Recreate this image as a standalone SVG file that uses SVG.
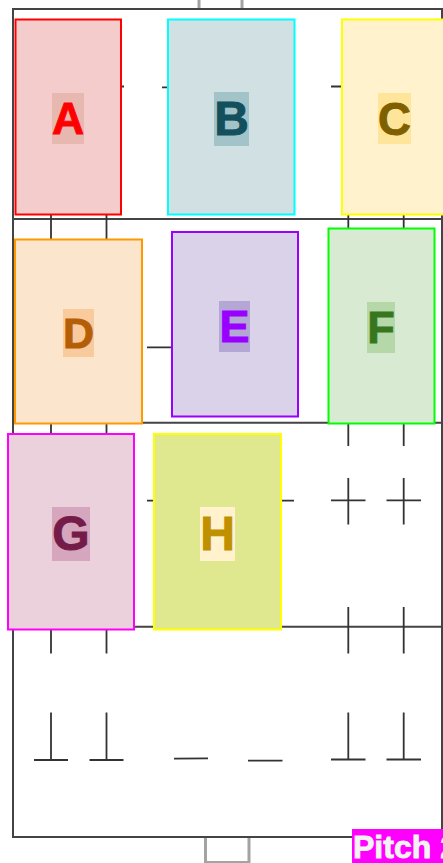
<svg xmlns="http://www.w3.org/2000/svg" width="443" height="863" viewBox="0 0 443 863">
<style>
.bg{fill:#fff}
.ln{stroke:#444;stroke-width:2;fill:none}
.dk{stroke:#333;stroke-width:1.8;fill:none}
.goal{stroke:#a3a3a3;stroke-width:3;fill:none}
.box{stroke-width:2}
.lb{font-family:"Liberation Sans",Arial,sans-serif;font-weight:700;text-anchor:middle;stroke-width:.9;paint-order:stroke}
</style>
<rect class="bg" width="443" height="863"/>
<g id="connectors">
<path class="goal" d="M199 0V9M242 0V9M205.500 837V862.500H249V837"/>
<path class="ln" d="M13 9H442V837H13ZM13 219H442M13 422.700H442M13 626.700H442"/>
<path class="dk" d="M51 214V240M106.500 214V240M348.300 214V229M403.700 214V229M51 423V434M106.500 423V434M348.300 423V446M403.700 423V446M348.300 478V524.500M403.700 478V524.500M331 500.300H365.500M386.500 500.300H421M348.300 607V653.500M403.700 607V653.500M51 630V653.500M106.500 630V653.500M51 712.500V760M106.500 712.500V760M348.300 712.500V759.500M403.700 712.500V759.500M34 760H68M89.500 760H123.500M331 759.500H365.500M386.500 759.500H421M174 758.700L208 758.300M248 760.700H282.500M121 86.500H124M162 87.300H168M331 86.500H342M147 347.300H172M147 500.700H154M281 500.700H294"/>
</g>
<g id="node-a"><rect class="box" x="15.500" y="19.500" width="105.500" height="195" fill="#f4cccc" stroke="#f00"/><rect x="52" y="93" width="32" height="51" fill="#e6b8af"/><text class="lb" x="68" y="134" font-size="44.500" fill="#f00" stroke="#f00">A</text></g>
<g id="node-b"><rect class="box" x="168" y="19.500" width="126.500" height="195" fill="#d0e0e3" stroke="#0ff"/><rect x="214" y="92" width="35" height="54" fill="#a2c4c9"/><text class="lb" x="231.500" y="135" font-size="48" fill="#134f5c" stroke="#134f5c">B</text></g>
<g id="node-c"><rect class="box" x="342" y="19.500" width="104" height="195" fill="#fff2cc" stroke="#ff0"/><rect x="378" y="93" width="33" height="51" fill="#ffe599"/><text class="lb" x="394.500" y="135" font-size="45.500" fill="#7f6000" stroke="#7f6000">C</text></g>
<g id="node-d"><rect class="box" x="15" y="239.500" width="127" height="184" fill="#fce5cd" stroke="#ff9900"/><rect x="63" y="309" width="31" height="48" fill="#f9cb9c"/><text class="lb" x="78.500" y="348" font-size="43" fill="#b45f06" stroke="#b45f06">D</text></g>
<g id="node-e"><rect class="box" x="172" y="232" width="126" height="184.500" fill="#d9d2e9" stroke="#9900ff"/><rect x="219" y="301" width="31" height="51" fill="#b4a7d6"/><text class="lb" x="234.500" y="342" font-size="45" fill="#9900ff" stroke="#9900ff">E</text></g>
<g id="node-f"><rect class="box" x="328.500" y="228.500" width="106" height="195" fill="#d9ead3" stroke="#0f0"/><rect x="367" y="302" width="28" height="51" fill="#b6d7a8"/><text class="lb" x="381" y="343" font-size="45" fill="#38761d" stroke="#38761d">F</text></g>
<g id="node-g"><rect class="box" x="8" y="434" width="126" height="195.500" fill="#ead1dc" stroke="#f0f"/><rect x="52" y="507" width="38" height="54" fill="#d5a6bd"/><text class="lb" x="71" y="550" font-size="48" fill="#741b47" stroke="#741b47">G</text></g>
<g id="node-h"><rect class="box" x="154" y="434" width="127" height="195.500" fill="#e0e88f" stroke="#ff0"/><rect x="200" y="507" width="35" height="54" fill="#fff2cc"/><text class="lb" x="217.500" y="550" font-size="48" fill="#bf9000" stroke="#bf9000">H</text></g>
<g id="label-pitch"><rect x="352" y="829" width="91" height="34" fill="#f0f"/><text class="lb" x="353" y="858" font-size="32" fill="#f3f3f3" stroke="#f3f3f3" style="text-anchor:start">Pitch 2</text></g>
</svg>
